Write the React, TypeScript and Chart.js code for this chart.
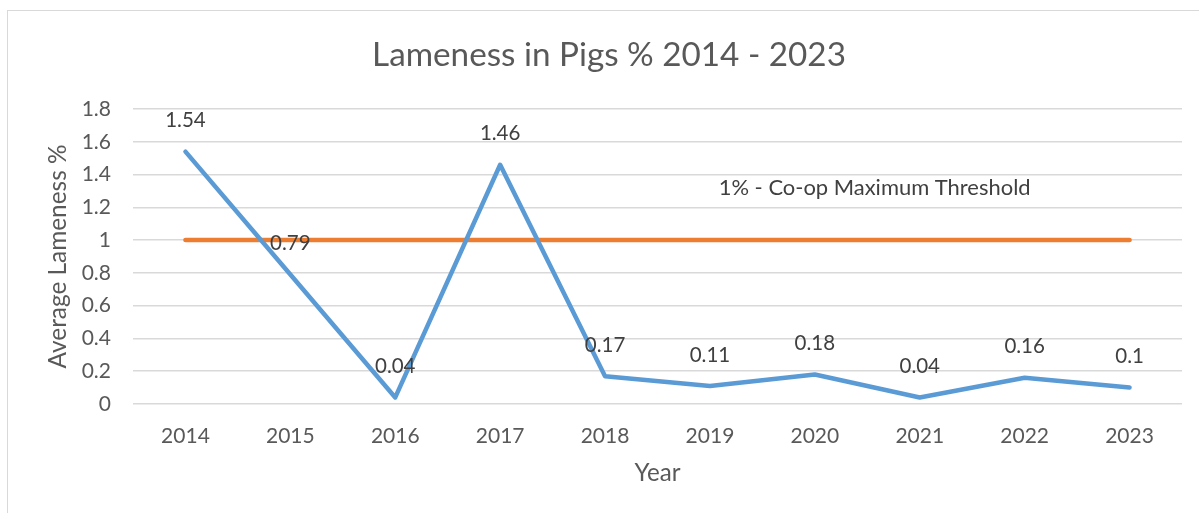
import { useEffect, useRef } from 'react';
import { Chart, registerables } from 'chart.js';

Chart.register(...registerables);

const YEARS = ['2014', '2015', '2016', '2017', '2018', '2019', '2020', '2021', '2022', '2023'];
const LAMENESS = [1.54, 0.79, 0.04, 1.46, 0.17, 0.11, 0.18, 0.04, 0.16, 0.1];
const THRESHOLD = [1, 1, 1, 1, 1, 1, 1, 1, 1, 1];
const Y_MIN = 0;
const Y_MAX = 1.8;
const Y_STEP = 0.2;

const TITLE = 'Lameness in Pigs % 2014 - 2023';
const X_TITLE = 'Year';
const Y_TITLE = 'Average Lameness %';
const THRESHOLD_LABEL = '1% - Co-op Maximum Threshold';
const THRESHOLD_LABEL_AT = { x: 6.57, y: 1.32 };

const FONT = 'Lato, "Open Sans", sans-serif';
const TEXT = '#595959';
const LABEL = '#404040';

function fitFont(ctx: CanvasRenderingContext2D, text: string, width: number) {
  ctx.font = `100px ${FONT}`;
  const w = ctx.measureText(text).width;
  return (100 * width) / w;
}

const textPlugin = {
  id: 'texts',
  afterDatasetsDraw(chart: any) {
    const { ctx, chartArea, scales } = chart;
    ctx.save();
    ctx.textAlign = 'center';
    ctx.textBaseline = 'middle';

    // data labels
    ctx.fillStyle = LABEL;
    ctx.font = `20.5px ${FONT}`;
    const meta = chart.getDatasetMeta(0);
    meta.data.forEach((pt: any, i: number) => {
      ctx.fillText(String(LAMENESS[i]), pt.x, pt.y - 31);
    });

    // threshold label
    const tSize = fitFont(ctx, THRESHOLD_LABEL, 312);
    ctx.font = `${tSize}px ${FONT}`;
    ctx.fillStyle = LABEL;
    ctx.fillText(
      THRESHOLD_LABEL,
      scales.x.getPixelForValue(THRESHOLD_LABEL_AT.x),
      scales.y.getPixelForValue(THRESHOLD_LABEL_AT.y)
    );

    // main title
    const ttSize = fitFont(ctx, TITLE, 474);
    ctx.font = `${ttSize}px ${FONT}`;
    ctx.fillStyle = TEXT;
    ctx.fillText(TITLE, 609, 55);

    // x title
    const xs = fitFont(ctx, X_TITLE, 46);
    ctx.font = `${xs}px ${FONT}`;
    ctx.fillText(X_TITLE, (chartArea.left + chartArea.right) / 2, 473);

    // y title
    const ys = fitFont(ctx, Y_TITLE, 224);
    ctx.font = `${ys}px ${FONT}`;
    ctx.translate(58, (chartArea.top + chartArea.bottom) / 2);
    ctx.rotate(-Math.PI / 2);
    ctx.fillText(Y_TITLE, 0, 0);
    ctx.restore();
  },
};

export default function App() {
  const ref = useRef<HTMLCanvasElement | null>(null);

  useEffect(() => {
    if (!ref.current) return;
    Chart.defaults.font.family = FONT;
    const chart = new Chart(ref.current, {
      type: 'line',
      data: {
        labels: YEARS,
        datasets: [
          {
            label: 'Lameness',
            data: LAMENESS,
            borderColor: '#5b9bd5',
            backgroundColor: '#5b9bd5',
            borderWidth: 4.5,
            pointRadius: 0,
            borderCapStyle: 'round',
            borderJoinStyle: 'round',
            tension: 0,
          },
          {
            label: 'Threshold',
            data: THRESHOLD,
            borderColor: '#ed7d31',
            backgroundColor: '#ed7d31',
            borderWidth: 4.5,
            pointRadius: 0,
            borderCapStyle: 'round',
            tension: 0,
          },
        ],
      },
      options: {
        animation: false,
        responsive: false,
        devicePixelRatio: 1,
        layout: { padding: { top: 109, right: 17, bottom: 0, left: 0 } },
        plugins: {
          legend: { display: false },
          title: { display: false },
          tooltip: { enabled: false },
        },
        scales: {
          x: {
            type: 'category',
            offset: true,
            grid: { display: false, drawTicks: false },
            border: { display: false },
            ticks: { color: TEXT, font: { size: 21 }, padding: 20 },
            afterFit: (s: any) => {
              s.height = 109;
            },
          },
          y: {
            min: Y_MIN,
            max: Y_MAX,
            grid: { color: '#d9d9d9', lineWidth: 1.5, drawTicks: false },
            border: { display: false },
            ticks: {
              stepSize: Y_STEP,
              color: TEXT,
              font: { size: 21 },
              padding: 22,
              callback: (v: any) => String(Number(Number(v).toFixed(1))),
            },
            afterFit: (s: any) => {
              s.width = 133;
            },
          },
        },
      },
      plugins: [textPlugin],
    });
    return () => chart.destroy();
  }, []);

  return (
    <div style={{ position: 'fixed', inset: 0, overflow: 'hidden', background: '#fff' }}>
      <div
        style={{
          position: 'absolute',
          left: 7,
          top: 10,
          width: 1260,
          height: 600,
          border: '1px solid #d9d9d9',
        }}
      />
      <canvas
        ref={ref}
        width={1199}
        height={513}
        style={{ position: 'absolute', left: 0, top: 0, display: 'block' }}
      />
    </div>
  );
}
